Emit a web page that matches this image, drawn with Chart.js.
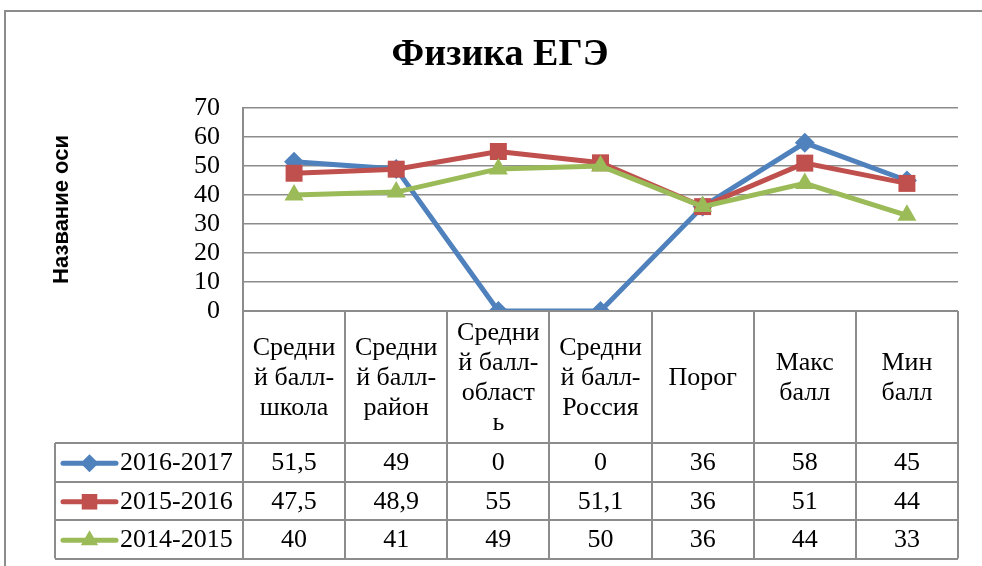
<!DOCTYPE html>
<html>
<head>
<meta charset="utf-8">
<script src="https://cdn.jsdelivr.net/npm/chart.js@4"></script>
<style>
  html, body { margin: 0; padding: 0; background: #fff; }
  #wrap { width: 982px; height: 566px; position: relative; }
</style>
</head>
<body>
<div id="wrap"><canvas id="egeChart"></canvas></div>
<script>
// chart data
const categories = [
    ['Средни', 'й балл-', 'школа'],
    ['Средни', 'й балл-', 'район'],
    ['Средни', 'й балл-', 'област', 'ь'],
    ['Средни', 'й балл-', 'Россия'],
    ['Порог'],
    ['Макс', 'балл'],
    ['Мин', 'балл']
];
const seriesNames = ['2016-2017', '2015-2016', '2014-2015'];
const values2016_2017 = [51.5, 49, 0, 0, 36, 58, 45];
const values2015_2016 = [47.5, 48.9, 55, 51.1, 36, 51, 44];
const values2014_2015 = [40, 41, 49, 50, 36, 44, 33];
const yTicks = [0, 10, 20, 30, 40, 50, 60, 70];

const colors = ['#4F81BD', '#C0504D', '#9BBB59'];
const markers = ['rectRot', 'rect', 'triangle'];
const markerSizes = [10, 12, 11];
const gridColor = '#8c8c8c';
const serif = '"Liberation Serif", "Times New Roman", serif';

function fmt(v) {
    return String(v).replace('.', ',');
}

// draws the frame and the data table under the plot
const tablePlugin = {
    id: 'dataTable',
    beforeDraw(chart) {
        const ctx = chart.ctx;
        ctx.save();
        ctx.strokeStyle = gridColor;
        ctx.lineWidth = 2;
        ctx.beginPath();
        ctx.moveTo(5, 566);
        ctx.lineTo(5, 11);
        ctx.lineTo(982, 11);
        ctx.stroke();
        ctx.restore();
    },
    afterDraw(chart) {
        const ctx = chart.ctx;
        const x = chart.scales.x;
        const area = chart.chartArea;
        const colW = x.getPixelForValue(1) - x.getPixelForValue(0);
        const left = x.getPixelForValue(0) - colW / 2;
        const right = x.getPixelForValue(categories.length - 1) + colW / 2;
        const top = area.bottom;
        const headBottom = 443;
        const rowH = 38.5;
        const legendLeft = 55;
        const rows = [values2016_2017, values2015_2016, values2014_2015];
        const tableBottom = headBottom + rowH * rows.length;

        ctx.save();
        ctx.strokeStyle = gridColor;
        ctx.lineWidth = 2;
        ctx.beginPath();
        // verticals
        for (let i = 0; i <= categories.length; i++) {
            const cx = Math.round(left + colW * i);
            ctx.moveTo(cx, top);
            ctx.lineTo(cx, tableBottom);
        }
        ctx.moveTo(legendLeft, headBottom);
        ctx.lineTo(legendLeft, tableBottom);
        // horizontals
        ctx.moveTo(left, top);
        ctx.lineTo(right, top);
        for (let r = 0; r <= rows.length; r++) {
            const y = Math.round(headBottom + rowH * r);
            ctx.moveTo(legendLeft, y);
            ctx.lineTo(right, y);
        }
        ctx.stroke();

        // header labels
        ctx.fillStyle = '#000';
        ctx.font = '26px ' + serif;
        ctx.textAlign = 'center';
        ctx.textBaseline = 'middle';
        const lineH = 30;
        const headMid = (top + headBottom) / 2 + 1;
        categories.forEach((lines, i) => {
            const cx = x.getPixelForValue(i);
            const y0 = headMid - (lines.length - 1) * lineH / 2;
            lines.forEach((t, k) => ctx.fillText(t, cx, y0 + k * lineH));
        });

        // rows
        rows.forEach((vals, r) => {
            const cy = headBottom + rowH * r + rowH / 2 + 1;
            vals.forEach((v, i) => {
                ctx.fillText(fmt(v), x.getPixelForValue(i), cy);
            });
            // legend key
            ctx.strokeStyle = colors[r];
            ctx.lineWidth = 5;
            ctx.lineCap = 'round';
            ctx.beginPath();
            ctx.moveTo(63, cy);
            ctx.lineTo(116, cy);
            ctx.stroke();
            ctx.fillStyle = colors[r];
            Chart.helpers.drawPoint(ctx, {
                pointStyle: markers[r],
                radius: markerSizes[r] - 1,
                borderWidth: 0
            }, 89.5, cy);
            ctx.fillStyle = '#000';
            ctx.textAlign = 'left';
            ctx.fillText(seriesNames[r], 120, cy);
            ctx.textAlign = 'center';
        });
        ctx.restore();
    }
};

const datasets = [values2016_2017, values2015_2016, values2014_2015].map((vals, i) => ({
    label: seriesNames[i],
    data: vals,
    borderColor: colors[i],
    backgroundColor: colors[i],
    borderWidth: 5,
    pointStyle: markers[i],
    pointRadius: markerSizes[i],
    pointHoverRadius: markerSizes[i],
    pointBorderWidth: 0,
    pointBackgroundColor: colors[i],
    tension: 0,
    order: 3 - i
}));

new Chart(document.getElementById('egeChart'), {
    type: 'line',
    data: {
        labels: categories,
        datasets: datasets
    },
    options: {
        responsive: true,
        maintainAspectRatio: false,
        animation: false,
        layout: {
            padding: { left: 42, right: 24, top: 0, bottom: 255 }
        },
        plugins: {
            legend: { display: false },
            tooltip: { enabled: false },
            title: {
                display: true,
                text: 'Физика ЕГЭ',
                color: '#000',
                font: { family: serif, size: 38, weight: 'bold' },
                padding: { top: 32, bottom: 30.4 }
            }
        },
        scales: {
            x: {
                display: false,
                offset: true
            },
            y: {
                min: 0,
                max: 70,
                afterBuildTicks(scale) {
                    scale.ticks = yTicks.map(v => ({ value: v }));
                },
                afterFit(scale) {
                    scale.width = 201;
                },
                grid: {
                    color: gridColor,
                    lineWidth: 1.5,
                    drawTicks: false
                },
                border: { display: true, color: gridColor, width: 2 },
                ticks: {
                    color: '#000',
                    padding: 23,
                    autoSkip: false,
                    font: { family: serif, size: 26 }
                },
                title: {
                    display: true,
                    text: 'Название оси',
                    color: '#000',
                    font: { family: '"Liberation Sans", Arial, sans-serif', size: 22, weight: 'bold' },
                    padding: { top: 7, bottom: 0 }
                }
            }
        }
    },
    plugins: [tablePlugin]
});
</script>
</body>
</html>
